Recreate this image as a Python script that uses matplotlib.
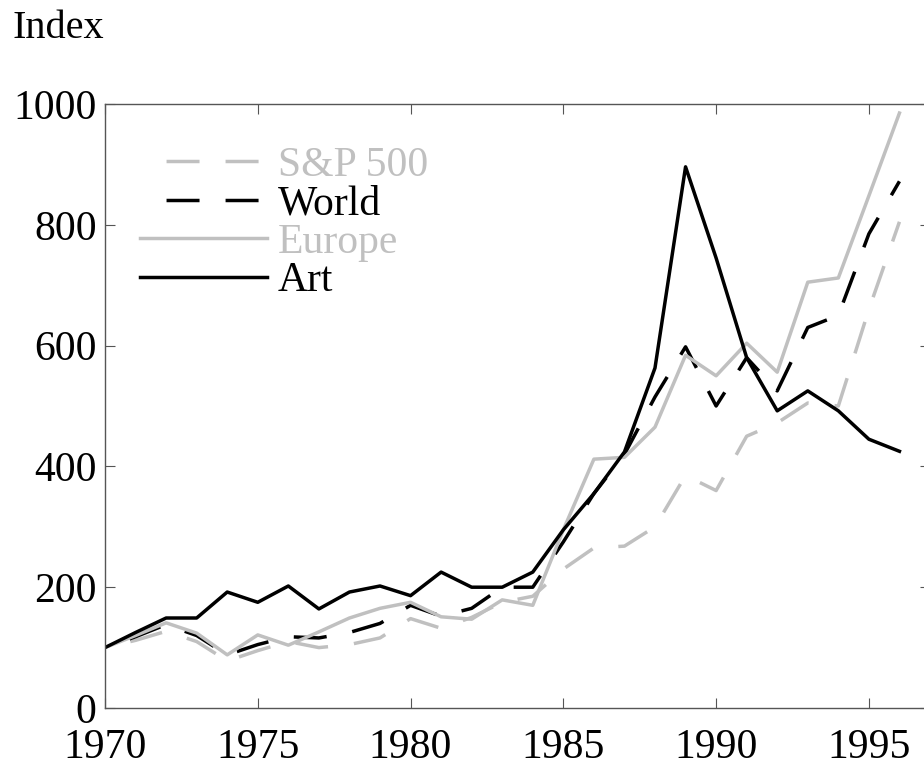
import numpy as np
import matplotlib
matplotlib.use("Agg")
import matplotlib.pyplot as plt

plt.rcParams['font.family'] = ['Liberation Serif', 'DejaVu Serif']

# data (index, 1970 = 100)
years = list(range(1970, 1997))
sp500 = [100, 112, 127, 110, 78, 95, 110, 100, 105, 116, 148, 132, 150, 175, 185,
         230, 265, 268, 300, 385, 360, 450, 472, 505, 500, 660, 805]
world = [100, 118, 138, 120, 88, 105, 118, 116, 125, 140, 170, 152, 165, 200, 200,
         275, 355, 420, 515, 598, 500, 580, 525, 630, 650, 785, 872]
europe = [100, 120, 141, 124, 88, 121, 104, 126, 149, 165, 175, 151, 147, 179, 170,
          295, 412, 415, 465, 584, 550, 604, 556, 705, 712, 848, 985]
art = [100, 125, 149, 149, 192, 175, 202, 164, 192, 202, 186, 225, 200, 200, 225,
       295, 355, 424, 563, 896, 745, 580, 492, 525, 492, 445, 425]

labels = ['S&P 500', 'World', 'Europe', 'Art']
gray = '#c0c0c0'
dash = (9.5, (9.5, 7.5))

fig = plt.figure(figsize=(9.24, 7.69), dpi=100)
ax = fig.add_axes([105/924, 1-708/769, 825/924, 604/769])

ax.plot(years, sp500, color=gray, lw=2.5, linestyle=dash, label=labels[0])
ax.plot(years, world, color='black', lw=2.5, linestyle=dash, label=labels[1])
ax.plot(years, europe, color=gray, lw=2.5, label=labels[2])
ax.plot(years, art, color='black', lw=2.5, label=labels[3])

ax.set_xlim(1970, 1997)
ax.set_ylim(0, 1000)
ax.set_xticks([1970, 1975, 1980, 1985, 1990, 1995])
ax.set_yticks([0, 200, 400, 600, 800, 1000])

for s in ax.spines.values():
    s.set_color('#555555')
    s.set_linewidth(1.0)
ax.tick_params(direction='in', length=7, width=0.8, color='#555555',
               top=True, right=True, labelsize=30)
ax.tick_params(axis='x', pad=15)
ax.tick_params(axis='y', pad=6)

leg = ax.legend(loc='upper left', bbox_to_anchor=(0.0424, 0.93), frameon=False,
                fontsize=30, handlelength=3.05, handletextpad=0.26,
                labelspacing=0.0, borderpad=0, borderaxespad=0,
                labelcolor='linecolor')

fig.text(13/924, 1-38/769, 'Index', fontsize=29, ha='left', va='baseline')

fig.savefig('out.png', dpi=100)
